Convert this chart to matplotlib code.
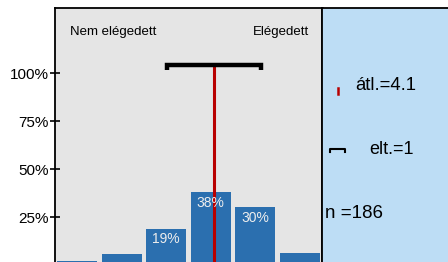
import numpy as np
import matplotlib.pyplot as plt

plt.rcParams.update({
    "font.family": ["Liberation Sans", "DejaVu Sans"],
})

categories = [1, 2, 3, 4, 5, 6]
shares = [0.02, 0.057, 0.19, 0.38, 0.30, 0.06]
mean_val = 4.1
mean_pos = 4.08
sd_val = 1.06
n_resp = 186
yticks = [0.25, 0.50, 0.75, 1.00]
ytick_labels = ["25%", "50%", "75%", "100%"]
left_label = "Nem elégedett"
right_label = "Elégedett"

BAR = "#2B6FAF"
RED = "#B80000"

W, H = 448, 262
fig = plt.figure(figsize=(W / 100, H / 100), dpi=100)
fig.patch.set_facecolor("white")

ax = fig.add_axes([55 / W, -3 / H, (322 - 55) / W, (265 - 8) / H])
ax.set_facecolor("#E5E5E5")
ax.bar(categories, shares, width=0.9, color=BAR, zorder=2)
for x, v in zip(categories, shares):
    if v >= 0.10:
        ax.text(x, v - 0.018, f"{v:.0%}", ha="center", va="top",
                color="#EDEDED", fontsize=10, zorder=4)

# mean line and sd bracket
bracket_y = 1.044
ax.plot([mean_pos, mean_pos], [0, bracket_y], color=RED, lw=2.2, zorder=3)
lo, hi = mean_pos - sd_val, mean_pos + sd_val
ax.plot([lo, lo, hi, hi], [1.016, bracket_y, bracket_y, 1.016],
        color="black", lw=3.2, solid_capstyle="butt", solid_joinstyle="miter", zorder=5)

ax.text(0.055, 0.905, left_label, transform=ax.transAxes, ha="left", va="center", fontsize=9.5)
ax.text(0.95, 0.905, right_label, transform=ax.transAxes, ha="right", va="center", fontsize=9.5)

ax.set_xlim(0.5, 6.5)
ax.set_ylim(0, 1.34)
ax.set_xticks([])
ax.set_yticks(yticks)
ax.set_yticklabels(ytick_labels, fontsize=11)
ax.tick_params(axis="y", direction="inout", length=7, width=1.2, pad=1)
for s in ax.spines.values():
    s.set_linewidth(1.3)
ax.spines["right"].set_linewidth(1.8)

# side legend panel
ax2 = fig.add_axes([322 / W, -3 / H, 140 / W, (265 - 8) / H])
ax2.set_facecolor("#BDDDF5")
ax2.set_xlim(0, 140)
ax2.set_ylim(257, 0)
ax2.set_xticks([])
ax2.set_yticks([])
for s in ax2.spines.values():
    s.set_linewidth(1.3)
ax2.plot([16, 16], [80, 86], color=RED, lw=1.8)
ax2.text(33, 77, f"átl.={mean_val}", ha="left", va="center", fontsize=13.3)
ax2.plot([8, 8, 23, 23], [144, 141, 141, 144], color="black", lw=1.5)
ax2.text(47, 141, f"elt.={round(sd_val)}", ha="left", va="center", fontsize=13)
ax2.text(2.5, 205, f"n ={n_resp}", ha="left", va="center", fontsize=13.5)

fig.savefig("out.png", dpi=100, facecolor="white")
